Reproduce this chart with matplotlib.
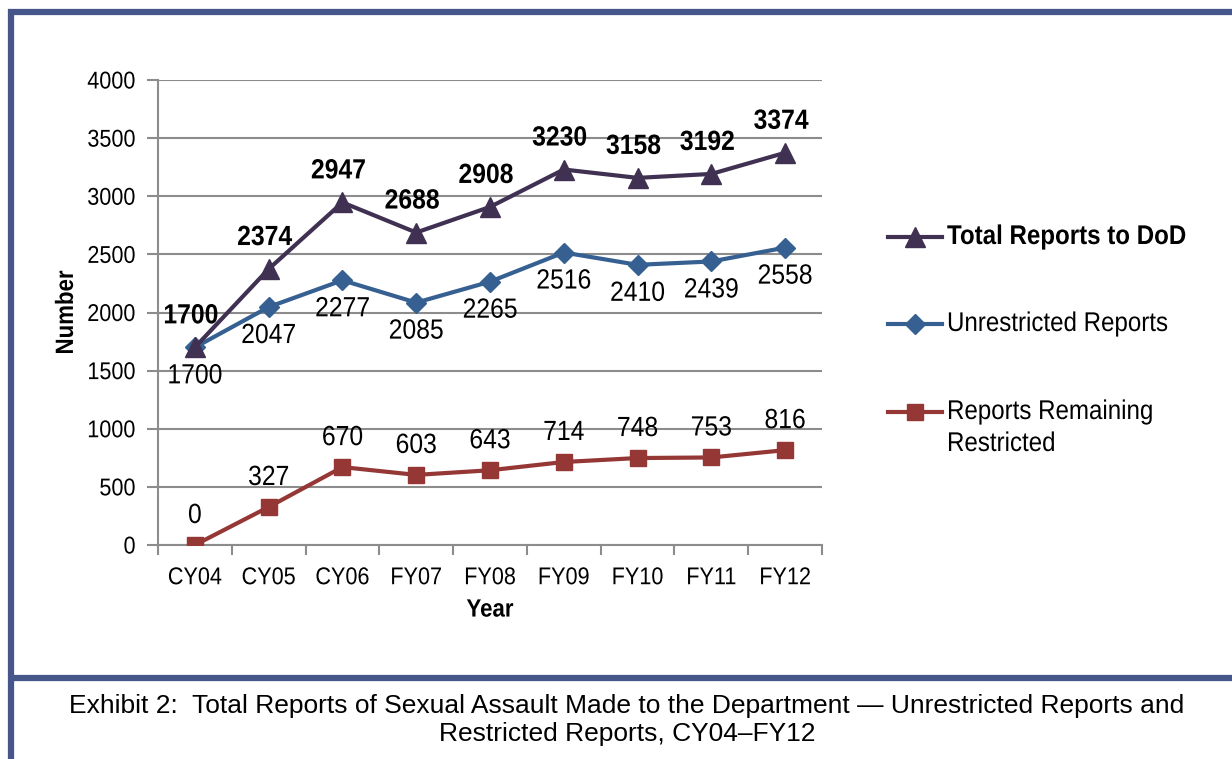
import matplotlib.pyplot as plt
from matplotlib.lines import Line2D
from matplotlib.patheffects import AbstractPathEffect
from matplotlib.transforms import Affine2D

W, H = 1232, 759

years = ["CY04", "CY05", "CY06", "FY07", "FY08", "FY09", "FY10", "FY11", "FY12"]
total_reports = [1700, 2374, 2947, 2688, 2908, 3230, 3158, 3192, 3374]
unrestricted = [1700, 2047, 2277, 2085, 2265, 2516, 2410, 2439, 2558]
restricted = [0, 327, 670, 603, 643, 714, 748, 753, 816]

PURPLE = "#403152"
BLUE = "#376092"
RED = "#953735"
GRID = "#8c8c8c"
FRAME = "#46568A"
SQUEEZE = 0.89

plt.rcParams["font.family"] = ["Liberation Sans", "DejaVu Sans"]


class Condense(AbstractPathEffect):
    """Squeeze text horizontally, like the narrow font in the original."""

    def __init__(self, sx=SQUEEZE, anchor="center"):
        super().__init__()
        self.sx = sx
        self.anchor = anchor

    def draw_path(self, renderer, gc, tpath, affine, rgbFace=None):
        ext = tpath.get_extents()
        if self.anchor == "center":
            c = (ext.x0 + ext.x1) / 2
        elif self.anchor == "right":
            c = ext.x1
        else:
            c = 0
        squeeze = Affine2D().translate(-c, 0).scale(self.sx, 1).translate(c, 0)
        renderer.draw_path(gc, tpath, squeeze + affine, rgbFace)


CENTER = [Condense(anchor="center")]
RIGHT = [Condense(anchor="right")]
LEFT = [Condense(anchor="left")]


def fx(x):
    return x / W


def fy(y):
    return 1 - y / H


fig = plt.figure(figsize=(W / 100, H / 100), dpi=100)
ax = fig.add_axes([fx(158), fy(545), fx(822) - fx(158), fy(80) - fy(545)])

x = range(len(years))
ax.plot(x, restricted, color=RED, lw=3, marker="s", ms=11, zorder=3)
ax.plot(x, unrestricted, color=BLUE, lw=3, marker="D", ms=10, zorder=4)
ax.plot(x, total_reports, color=PURPLE, lw=3, marker="^", ms=15, zorder=5)

for i, v in enumerate(total_reports):
    ax.annotate(str(v), (i, v), xytext=(-4, 31), textcoords="offset pixels",
                ha="center", va="center", fontsize=20, fontweight="bold",
                path_effects=CENTER)
for i, v in enumerate(unrestricted):
    ax.annotate(str(v), (i, v), xytext=(0, -29), textcoords="offset pixels",
                ha="center", va="center", fontsize=20, path_effects=CENTER)
for i, v in enumerate(restricted):
    ax.annotate(str(v), (i, v), xytext=(0, 29), textcoords="offset pixels",
                ha="center", va="center", fontsize=20, path_effects=CENTER)

ax.set_xlim(-0.5, len(years) - 0.5)
ax.set_ylim(0, 4000)
ax.set_yticks(range(0, 4001, 500))
ax.set_yticklabels([str(v) for v in range(0, 4001, 500)], fontsize=17.5)
ax.set_xticks([i - 0.5 for i in range(len(years) + 1)])
ax.set_xticklabels([])
ax.set_xticks(list(x), minor=True)
ax.set_xticklabels(years, minor=True, fontsize=17.5)
ax.tick_params(axis="x", which="minor", length=0, pad=16)
ax.tick_params(axis="x", which="major", length=7, width=1.5, color=GRID, direction="out")
ax.tick_params(axis="y", length=8, width=1.5, color=GRID, pad=8)
ax.grid(axis="y", color=GRID, lw=1.5)
ax.set_axisbelow(True)
for side in ("top", "right"):
    ax.spines[side].set_visible(False)
for side in ("left", "bottom"):
    ax.spines[side].set_color(GRID)
    ax.spines[side].set_linewidth(1.5)

ax.set_xlabel("Year", fontsize=18, fontweight="bold", labelpad=6, path_effects=CENTER)
ax.set_ylabel("Number", fontsize=18, fontweight="bold", labelpad=2.5, path_effects=CENTER)

for t in ax.get_yticklabels():
    t.set_path_effects(RIGHT)
for t in ax.get_xticklabels(minor=True):
    t.set_path_effects(CENTER)

# legend drawn by hand, next to the plot
legend_rows = [
    ("Total Reports to DoD", PURPLE, "^", 15, 237, 237, "bold"),
    ("Unrestricted Reports", BLUE, "D", 10, 324, 324, "normal"),
    ("Reports Remaining\nRestricted", RED, "s", 11, 412, 428, "normal"),
]
for label, color, marker, ms, y, text_y, weight in legend_rows:
    fig.add_artist(Line2D([fx(888), fx(942)], [fy(y), fy(y)], color=color, lw=3,
                          transform=fig.transFigure))
    fig.add_artist(Line2D([fx(915)], [fy(y)], color=color, marker=marker, ms=ms,
                          transform=fig.transFigure))
    fig.text(fx(947), fy(text_y), label, fontsize=19.5, fontweight=weight,
             ha="left", va="center", linespacing=1.3, path_effects=LEFT)

# frame lines
fig.add_artist(Line2D([fx(8), 1], [fy(12), fy(12)], color=FRAME, lw=4.5,
                      transform=fig.transFigure, solid_capstyle="butt"))
fig.add_artist(Line2D([fx(11), fx(11)], [fy(9), 0], color=FRAME, lw=4.5,
                      transform=fig.transFigure, solid_capstyle="butt"))
fig.add_artist(Line2D([fx(8), 1], [fy(678), fy(678)], color=FRAME, lw=4.5,
                      transform=fig.transFigure, solid_capstyle="butt"))

fig.text(fx(627), fy(720),
         "Exhibit 2:  Total Reports of Sexual Assault Made to the Department \u2014 "
         "Unrestricted Reports and\nRestricted Reports, CY04\u2013FY12",
         ha="center", va="center", fontsize=19, linespacing=1.18)

fig.savefig("out.png", dpi=100)
